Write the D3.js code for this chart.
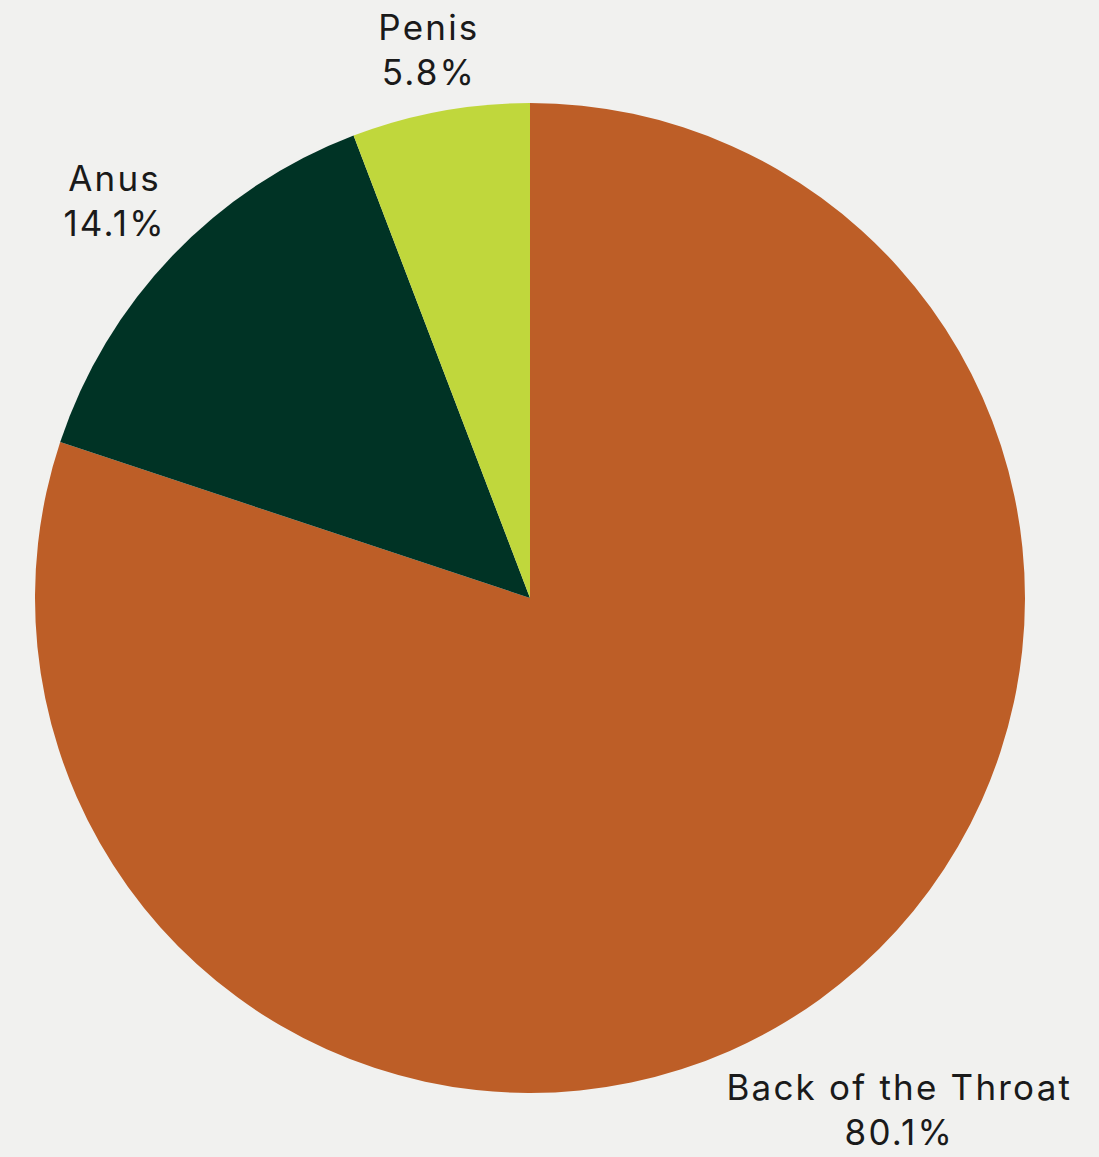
<!DOCTYPE html>
<html>
<head>
<meta charset="utf-8">
<script src="https://cdn.jsdelivr.net/npm/d3@7"></script>
<style>
  html, body { margin: 0; padding: 0; background: #f1f1ef; }
  svg { display: block; }
  text { font-family: Inter, "Open Sans", sans-serif; }
</style>
</head>
<body>
<svg id="chart" width="1099" height="1157"></svg>
<script>
const categories = ["Back of the Throat", "Anus", "Penis"];
const values = [80.1, 14.1, 5.8];
const colors = ["#bd5e27", "#003325", "#c0d73c"];

const W = 1099, H = 1157;
const cx = 530, cy = 598, R = 495;
const svg = d3.select("#chart");
svg.append("rect").attr("width", W).attr("height", H).attr("fill", "#f1f1ef");

const data = categories.map((c, i) => ({ label: c, value: values[i], color: colors[i] }));
const pie = d3.pie().value(d => d.value).sort(null);
const arcs = pie(data);
const arc = d3.arc().innerRadius(0).outerRadius(R);

const g = svg.append("g").attr("transform", `translate(${cx},${cy})`);
g.selectAll("path").data(arcs).join("path")
  .attr("d", arc)
  .attr("fill", d => d.data.color);

const fs = 35, lh = 45, gap = 12;
const labels = g.selectAll("g.lbl").data(arcs).join("g").attr("class", "lbl");
labels.each(function(d) {
  const sel = d3.select(this);
  const t = sel.append("text").attr("text-anchor", "middle").attr("font-size", fs)
    .attr("letter-spacing", 2.2).attr("fill", "#1a1a1a");
  t.append("tspan").attr("x", 0).attr("y", 0).text(d.data.label);
  t.append("tspan").attr("x", 0).attr("y", lh).text(d.data.value.toFixed(1) + "%");
  const bb = t.node().getBBox();
  const a = (d.startAngle + d.endAngle) / 2;
  const ux = Math.sin(a), uy = -Math.cos(a);
  let D = R;
  for (let k = 0; k < 2000; k++) {
    const cxl = ux * D, cyl = uy * D;
    const x0 = cxl - bb.width / 2, x1 = cxl + bb.width / 2;
    const y0 = cyl - bb.height / 2, y1 = cyl + bb.height / 2;
    const nx = Math.max(x0, Math.min(0, x1)), ny = Math.max(y0, Math.min(0, y1));
    if (Math.hypot(nx, ny) >= R + gap) break;
    D += 1;
  }
  const tx = ux * D - (bb.x + bb.width / 2);
  const ty = uy * D - (bb.y + bb.height / 2);
  t.attr("transform", `translate(${tx},${ty})`);
});
</script>
</body>
</html>
